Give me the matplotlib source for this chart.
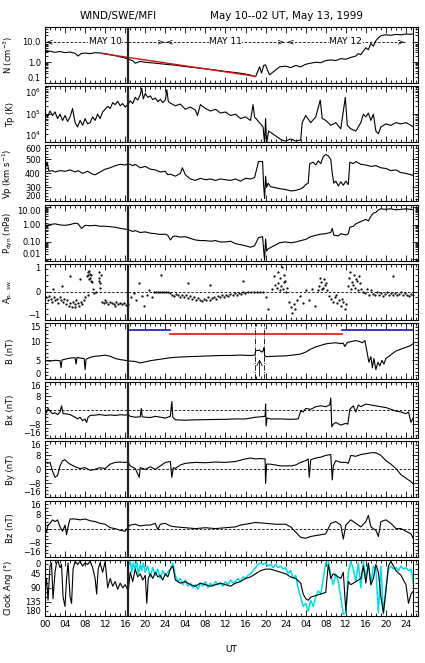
import numpy as np
import matplotlib
matplotlib.use("Agg")
import matplotlib.pyplot as plt
from matplotlib.ticker import (MultipleLocator, FixedLocator, LogLocator,
                               NullFormatter, FormatStrFormatter,
                               LogFormatterMathtext)

# ---- data: time in hours after 00 UT, May 10 1999 ----
x_ticks = [0, 4, 8, 12, 16, 20, 24, 28, 32, 36, 40, 44, 48, 52, 56, 60, 64, 68, 72]
x_tick_labels = ["00", "04", "08", "12", "16", "20", "24", "04", "08", "12",
                 "16", "20", "24", "04", "08", "12", "16", "20", "24"]
t_mark = 16.6
t_end = 73.5

day_start = [0, 24, 48]
day_end = [24, 48, 72]
day_names = ["MAY 10", "MAY 11", "MAY 12"]

# proton density (cm^-3)
t_n = [0, 1, 2, 3, 4, 5, 6, 6.6, 7.2, 8,
       9, 10, 11, 12, 13, 14, 15, 16, 16.6, 17.5,
       18, 19, 20, 21, 22, 24, 26, 28, 30, 32,
       34, 36, 38, 40, 41, 42, 42.4, 42.8, 43.2, 43.6,
       44, 44.4, 44.8, 46.8, 48, 49, 50, 51, 52, 53,
       54, 55, 56, 57, 58, 59, 60, 61, 62, 62.5,
       63, 63.5, 64, 64.5, 65, 65.5, 66, 66.5, 67, 68,
       69, 70, 71, 72, 73, 73.5]
n_vals = [3.2, 3.4, 3.0, 3.3, 2.9, 3.1, 2.7, 2.0, 2.6, 2.8,
          2.6, 2.9, 2.8, 2.6, 2.3, 2.1, 1.8, 1.6, 1.4, 1.2,
          0.9, 1.1, 1.0, 0.95, 0.9, 0.8, 0.72, 0.62, 0.55, 0.48,
          0.42, 0.36, 0.32, 0.27, 0.24, 0.2, 0.35, 0.6, 0.3, 0.7,
          0.75, 0.4, 0.25, 0.6, 0.65, 0.55, 0.7, 0.6, 0.8, 0.9,
          1.0, 0.95, 1.2, 1.3, 1.2, 1.5, 1.4, 1.7, 2.0, 2.6,
          2.3, 3.5, 5.0, 4.0, 8.0, 6.0, 11, 15, 19, 21,
          20, 22, 21, 23, 22, 25]
t_fit = [11.5, 42.0]
n_fit = [2.6, 0.21]

# proton temperature (units of 1e5 K)
t_tp = [0, 0.5, 1, 1.5, 2, 2.5, 3, 3.5, 4, 4.5,
        5, 5.5, 6, 6.5, 7, 7.5, 8, 8.5, 9, 9.5,
        10, 10.5, 11, 11.5, 12, 12.5, 13, 13.5, 14, 14.5,
        15, 15.5, 16, 16.6, 17, 17.5, 18, 18.5, 19, 19.3,
        19.6, 20, 20.5, 21, 21.5, 22, 22.5, 23, 23.5, 24,
        24.3, 24.6, 25, 26, 27, 28, 29, 30, 30.4, 31,
        32, 33, 34, 35, 36, 37, 38, 39, 40, 41,
        41.5, 41.8, 43.5, 43.8, 44.0, 44.2, 44.6, 47.2, 48, 49,
        50, 51, 51.3, 52, 53, 54, 54.9, 55.3, 56, 57,
        58, 59, 59.9, 60.3, 61, 62, 63, 63.5, 64, 64.5,
        65, 65.5, 66, 66.5, 67, 68, 69, 70, 71, 72,
        73, 73.5]
tp_vals = [1.1, 0.8, 1.3, 0.9, 1.2, 0.7, 1.0, 0.6, 0.9, 0.55,
           0.8, 1.6, 0.5, 0.35, 0.6, 0.4, 0.7, 0.45, 0.5, 0.8,
           0.6, 1.0, 0.7, 1.2, 1.5, 1.9, 1.6, 2.6, 2.2, 2.9,
           2.0, 2.4, 1.8, 2.3, 3.0, 2.4, 4.0, 3.2, 5.0, 8.5,
           3.5, 5.5, 4.0, 4.5, 3.3, 3.8, 2.8, 3.4, 2.6, 3.2,
           7.5, 2.8, 2.5, 2.0, 2.3, 1.5, 1.8, 1.4, 0.9, 2.2,
           1.6, 1.3, 1.5, 1.1, 1.2, 0.9, 1.0, 0.7, 0.8, 0.6,
           2.2, 0.8, 0.35, 0.09, 0.7, 0.09, 0.25, 0.12, 0.11, 0.13,
           0.11, 0.12, 0.5, 0.9, 0.5, 0.8, 3.2, 0.7, 0.6, 0.4,
           0.5, 0.3, 4.0, 0.4, 0.3, 0.25, 0.5, 1.0, 0.8, 1.1,
           0.6, 1.0, 0.25, 0.2, 0.35, 0.45, 0.4, 0.5, 0.45, 0.5,
           0.4, 0.35]

# proton speed (km/s)
t_vp = [0, 0.4, 0.8, 1.5, 2, 3, 4, 5, 6, 6.6,
        7.5, 8.5, 9.5, 10, 11, 12, 13, 14, 15, 16,
        16.6, 17.5, 18, 19, 20, 21, 22, 23, 24, 24.5,
        25, 26, 27, 27.4, 28, 29, 30, 31, 32, 33,
        34, 35, 36, 37, 38, 39, 40, 41, 41.8, 42.6,
        43.4, 43.6, 43.8, 44.0, 44.2, 44.5, 45, 47, 48, 49,
        50, 51, 51.5, 52, 52.5, 52.8, 53.5, 54, 54.5, 55,
        55.5, 56, 56.5, 57, 57.3, 57.6, 58, 58.5, 59, 59.5,
        60, 60.5, 60.8, 61.5, 62, 63, 64, 65, 66, 67,
        68, 69, 70, 71, 72, 73, 73.5]
vp_vals = [425, 480, 415, 420, 410, 420, 415, 425, 410, 420,
           400, 415, 395, 390, 410, 430, 440, 455, 465, 460,
           470, 455, 465, 440, 450, 430, 425, 410, 415, 390,
           395, 380, 400, 440, 390, 360, 350, 365, 355, 360,
           350, 360, 355, 350, 360, 345, 365, 360, 370, 485,
           485, 320, 220, 380, 300, 330, 305, 290, 285, 275,
           278, 290, 300, 320, 330, 470, 480, 460, 490, 470,
           520, 535, 525, 500, 400, 330, 345, 310, 340, 315,
           345, 320, 480, 470, 485, 465, 460, 450, 455, 440,
           435, 420, 425, 405, 400, 390, 385]

# dynamic pressure (nPa)
t_pd = [0, 1, 2, 3, 4, 5, 6, 6.6, 7.3, 8,
        9, 10, 11, 12, 13, 14, 15, 16, 16.6, 17.5,
        18, 19, 20, 21, 22, 23, 24, 24.5, 25, 25.5,
        26, 27, 28, 29, 30, 31, 32, 33, 34, 35,
        36, 37, 38, 39, 40, 41, 41.8, 42.6, 43.4, 43.6,
        43.8, 44.0, 44.2, 44.5, 46.8, 48, 49, 50, 51, 52,
        53, 54, 55, 56, 57, 57.3, 57.6, 58.5, 59, 60,
        60.5, 60.8, 61.5, 62, 63, 64, 64.5, 65, 65.5, 66,
        66.5, 67, 68, 69, 70, 71, 72, 73, 73.5]
pd_vals = [1.2, 1.0, 1.1, 0.95, 0.9, 1.0, 1.2, 1.1, 0.6, 0.9,
           0.85, 0.9, 0.8, 0.8, 0.75, 0.7, 0.6, 0.55, 0.5, 0.4,
           0.45, 0.35, 0.38, 0.32, 0.3, 0.27, 0.28, 0.24, 0.13, 0.2,
           0.22, 0.19, 0.2, 0.16, 0.13, 0.12, 0.12, 0.11, 0.12, 0.1,
           0.1, 0.11, 0.08, 0.07, 0.06, 0.05, 0.06, 0.18, 0.2, 0.04,
           0.009, 0.15, 0.03, 0.04, 0.09, 0.1, 0.09, 0.1, 0.12, 0.14,
           0.2, 0.24, 0.28, 0.3, 0.35, 0.6, 0.25, 0.22, 0.3, 0.25,
           0.3, 0.7, 0.8, 1.1, 1.5, 2.0, 1.6, 3.0, 4.5, 5.0,
           7.0, 8.0, 7.5, 8.0, 7.0, 7.5, 8.0, 7.5, 7.0]

# alpha/proton parameter (scatter)
t_ap = [0.2, 0.5, 0.8, 1.1, 1.4, 1.7, 2.0, 2.3, 2.6, 2.9,
        3.2, 3.5, 3.8, 4.1, 4.4, 4.7, 5.0, 5.3, 5.6, 5.9,
        6.2, 6.5, 6.8, 7.1, 7.4, 7.7, 8.0, 1.5, 3.3, 4.9,
        8.4, 8.5, 8.6, 8.7, 8.8, 8.9, 9.0, 9.1, 9.2, 9.4,
        10.7, 10.8, 10.9, 11.0, 11.1, 10.8, 9.8, 10.2, 8.6, 9.6,
        11.4, 11.8, 12.2, 12.6, 13.0, 13.4, 13.8, 14.2, 14.6, 15.0,
        15.4, 15.8, 16.2, 16.5, 12.0, 14.0, 17.2, 17.7, 18.2, 18.7,
        19.3, 19.8, 20.3, 20.8, 21.3, 21.8, 22.2, 22.6, 23.0, 23.4,
        23.8, 24.2, 24.6, 23.1, 25.0, 25.4, 25.8, 26.2, 26.6, 27.0,
        27.4, 27.8, 28.2, 28.6, 29.0, 29.4, 29.8, 30.2, 30.6, 31.0,
        31.4, 31.8, 32.2, 32.6, 33.0, 33.4, 33.8, 34.2, 34.6, 35.0,
        35.4, 35.8, 36.2, 36.6, 37.0, 37.4, 37.8, 38.2, 38.6, 39.0,
        39.4, 39.8, 40.4, 41.0, 41.6, 42.2, 42.8, 43.4, 44.0, 44.4,
        45.2, 45.8, 46.2, 46.5, 46.8, 47.1, 47.4, 47.7, 48.0, 48.3,
        46.4, 46.9, 47.2, 47.6, 47.9, 45.6, 48.7, 49.0, 49.3, 49.6,
        49.9, 50.3, 50.8, 51.4, 52.0, 52.6, 53.2, 53.8, 54.4, 54.7,
        55.0, 55.3, 55.6, 55.9, 56.2, 54.8, 55.4, 56.0, 56.6, 57.0,
        57.4, 57.8, 58.2, 58.6, 59.0, 59.4, 59.8, 58.0, 59.2, 60.0,
        60.4, 60.7, 61.0, 61.3, 61.6, 61.9, 62.2, 62.5, 62.8, 63.1,
        60.9, 61.5, 62.1, 62.7, 63.4, 63.8, 64.2, 64.6, 65.0, 65.4,
        65.8, 66.2, 66.6, 67.0, 67.4, 67.8, 68.2, 68.6, 69.0, 69.4,
        69.8, 70.2, 70.6, 71.0, 71.4, 71.8, 72.2, 72.6, 73.0, 73.4,
        69.5, 7.0, 6.0, 28.5, 33.0, 39.5]
ap_vals = [-0.20, -0.30, -0.15, -0.25, -0.35, -0.20, -0.30, -0.25, -0.40, -0.20,
           -0.30, -0.35, -0.25, -0.45, -0.30, -0.50, -0.40, -0.55, -0.35, -0.45,
           -0.30, -0.40, -0.50, -0.35, -0.45, -0.30, -0.20, 0.10, 0.20, 0.55,
           0.55, 0.70, 0.60, 0.45, 0.75, 0.50, 0.65, 0.40, 0.60, 0.35,
           0.70, 0.50, 0.30, 0.15, 0.60, 0.40, -0.05, 0.00, -0.10, 0.10,
           -0.35, -0.40, -0.38, -0.42, -0.36, -0.40, -0.44, -0.38, -0.42, -0.40,
           -0.45, -0.40, -0.48, -0.42, -0.30, -0.50, -0.20, -0.05, -0.30, 0.30,
           -0.15, -0.50, -0.10, 0.05, -0.20, 0.00, 0.00, 0.00, 0.00, 0.00,
           0.00, 0.00, 0.00, 0.60, -0.05, -0.10, -0.15, -0.08, -0.12, -0.20,
           -0.10, -0.18, -0.12, -0.22, -0.15, -0.25, -0.20, -0.30, -0.22, -0.28,
           -0.32, -0.25, -0.30, -0.20, -0.28, -0.22, -0.18, -0.25, -0.15, -0.20,
           -0.12, -0.18, -0.10, -0.15, -0.08, -0.12, -0.05, -0.10, -0.03, -0.08,
           -0.02, -0.05, 0.00, 0.00, 0.00, 0.00, 0.00, 0.00, -0.20, -0.60,
           0.10, 0.25, 0.15, 0.30, 0.05, 0.20, 0.10, 0.35, 0.00, 0.15,
           0.70, 0.50, 0.90, 0.60, 0.40, 0.55, -0.35, -0.55, -0.75, -0.45,
           -0.60, -0.30, -0.15, -0.40, 0.05, -0.30, 0.10, -0.50, 0.05, 0.20,
           0.35, 0.10, 0.45, 0.25, 0.05, 0.50, 0.15, 0.30, -0.15, -0.25,
           -0.35, -0.20, -0.40, -0.30, -0.50, -0.35, -0.60, -0.10, -0.25, -0.45,
           0.20, 0.50, 0.10, 0.35, 0.60, 0.15, 0.40, 0.05, 0.30, 0.10,
           0.70, 0.25, 0.45, 0.55, 0.00, -0.05, 0.10, -0.10, 0.05, -0.08,
           -0.12, 0.00, -0.10, -0.05, -0.15, -0.08, -0.02, -0.10, -0.06, -0.12,
           -0.05, -0.10, -0.08, -0.02, -0.12, -0.06, -0.10, -0.15, -0.08, -0.12,
           0.57, 0.45, -0.55, 0.30, 0.25, 0.40]

# field magnitude (nT)
t_b = [0, 1, 2, 3, 3.2, 3.4, 4, 5, 6, 6.2,
       6.4, 7, 7.8, 8.0, 8.2, 9, 10, 11, 12, 13,
       14, 15, 16, 16.6, 17, 18, 19, 20, 21, 22,
       23, 24, 25, 27, 29, 31, 33, 35, 37, 39,
       41, 41.9, 42.0, 42.8, 43.2, 43.6, 43.7, 43.8, 44.0, 46,
       48, 50, 51, 52, 53, 54, 55, 56, 57, 58,
       59, 59.5, 59.8, 60.3, 61, 62, 62.8, 63.3, 63.8, 64.2,
       64.6, 65.0, 65.3, 65.6, 66.0, 66.4, 66.8, 67.2, 67.6, 68,
       69, 70, 71, 72, 73, 73.5]
b_vals = [4.9, 4.8, 5.0, 4.9, 3.0, 5.1, 5.3, 5.6, 5.7, 4.0,
          5.8, 5.6, 5.5, 2.5, 5.3, 5.8, 6.1, 6.2, 6.4, 6.1,
          5.5, 5.2, 5.0, 4.9, 4.8, 4.7, 4.3, 4.6, 4.9, 5.1,
          5.3, 5.5, 5.7, 5.9, 6.0, 6.1, 6.2, 6.3, 6.3, 6.4,
          6.3, 6.4, 7.6, 7.7, 7.2, 7.7, 8.4, 6.3, 6.0, 6.1,
          6.2, 6.5, 6.7, 7.2, 8.0, 8.6, 9.0, 9.4, 9.6, 9.7,
          9.5, 9.6, 8.7, 9.8, 10.0, 10.3, 10.0, 9.7, 10.3, 7.5,
          4.5, 6.0, 3.0, 5.5, 2.5, 4.5, 3.5, 5.0, 4.0, 5.5,
          6.5, 7.5, 8.0, 8.5, 9.0, 9.5]
# interval bars above the B trace
bar_start = [16.6, 25.0, 59.3]
bar_end = [25.0, 59.3, 73.5]
bar_level = [13.0, 12.1, 13.0]
t_bounds = [41.9, 43.7]
t_arrow = 42.8
b_arrow_tip = 6.0

# field components (nT)
t_bx = [0, 0.3, 0.6, 1, 1.5, 2, 2.5, 3, 3.3, 3.6,
        4, 5, 6, 6.5, 7, 7.5, 8, 8.3, 8.6, 9,
        10, 11, 12, 13, 14, 15, 16, 16.6, 17, 18,
        19, 19.2, 19.4, 20, 21, 22, 23, 24, 25, 25.3,
        25.5, 26, 28, 30, 32, 34, 36, 38, 40, 41,
        42, 43, 43.9, 44.0, 44.1, 44.3, 45, 47, 49, 50.5,
        51, 51.5, 52, 53, 54, 55, 56, 56.8, 57.0, 57.2,
        57.5, 58, 59, 60, 60.4, 60.8, 61.5, 62, 62.5, 63,
        64, 65, 66, 67, 68, 69, 70, 71, 72, 72.5,
        73, 73.5]
bx_vals = [0.5, -1.5, 1.0, -0.5, -2.0, -1.5, -2.5, -1.0, 2.5, -2.0,
           -2.0, -2.5, -4.0, -5.0, -4.0, -6.0, -5.0, -7.0, -4.0, -3.0,
           -2.8, -2.5, -3.0, -2.7, -3.0, -2.6, -2.8, -2.5, -3.5, -4.0,
           -3.8, 1.0, -3.8, -4.0, -4.2, -3.5, -4.0, -4.5, -3.5, 5.0,
           -4.0, -5.5, -5.7, -5.5, -5.4, -5.3, -5.2, -5.0, -5.0, -4.5,
           -4.0, -3.8, -3.5, 3.5, -9.0, -4.5, -5.0, -5.0, -5.2, -5.0,
           -0.5, -1.0, 1.0, 0.5, 2.0, 2.5, 2.0, 3.0, 7.0, -9.5,
           -8.0, -7.0, -8.5, -7.5, -8.0, 0.5, 2.5, -1.0, 3.0, 2.0,
           3.5, 3.0, 2.5, 2.0, 1.5, 0.5, -0.5, -1.0, -2.0, -1.0,
           -7.0, -4.0]

t_by = [0, 0.5, 1, 1.5, 2, 2.5, 3, 3.5, 4, 4.5,
        5, 6, 7, 8, 9, 10, 11, 12, 13, 14,
        15, 16, 16.6, 17, 18, 18.8, 19, 20, 21, 22,
        23, 24, 25, 25.3, 25.6, 26, 27, 28, 30, 32,
        34, 36, 38, 40, 41, 42, 43, 43.9, 44.0, 44.2,
        45, 46, 47, 48, 49, 50, 51, 52, 52.5, 52.7,
        53, 54, 55, 56, 57, 57.3, 57.5, 58, 59, 60,
        60.5, 61, 62, 63, 64, 65, 66, 67, 68, 69,
        70, 71, 72, 73, 73.5]
by_vals = [4.5, 3.5, 4.0, -1.0, -4.5, -3.5, 2.0, 5.0, 5.5, 4.0,
           3.0, 1.5, 0.5, 1.0, -0.5, 0.0, 1.0, 0.5, 3.0, 4.0,
           4.2, 4.0, 4.2, 2.0, 0.5, -4.5, 1.0, 0.0, 1.5, 0.0,
           2.0, 4.0, 4.5, -4.5, 1.0, 0.5, 2.5, 3.5, 4.0, 3.8,
           4.2, 4.0, 4.5, 6.0, 6.5, 6.0, 6.2, 6.0, -8.0, 3.0,
           3.0, 2.5, 2.0, 2.0, 2.0, 2.5, 4.0, 5.0, 6.0, -4.5,
           5.5, 6.5, 7.0, 8.0, 8.5, -6.0, 2.0, 5.0, 4.0, 4.0,
           3.5, 8.0, 7.5, 8.5, 9.0, 9.5, 9.5, 8.0, 5.0, 3.0,
           0.5, -3.0, -5.0, -7.0, -8.5]

t_bz = [0, 0.3, 0.6, 1, 1.5, 2, 2.5, 3, 3.5, 4,
        4.3, 4.6, 5, 6, 7, 8, 9, 10, 11, 12,
        13, 14, 15, 16, 16.6, 17, 18, 19, 20, 21,
        22, 22.5, 23, 24, 25, 26, 28, 30, 32, 34,
        36, 38, 39, 40, 41, 42, 44, 46, 48, 49,
        50, 51, 52, 53, 54, 55, 56, 57, 58, 59,
        59.5, 60, 61, 62, 63, 64, 64.5, 65, 66, 66.5,
        67, 68, 69, 70, 71, 72, 73, 73.5]
bz_vals = [0.5, -2.0, 2.0, 3.0, 5.0, 4.0, 5.0, 1.0, -1.5, 2.0,
           -3.5, 1.0, 5.5, 5.5, 5.0, 5.5, 4.5, 4.0, 3.0, 2.5,
           0.5, 0.0, -1.0, -1.5, 1.0, 2.0, 2.5, 1.5, 2.0, 2.0,
           3.0, -0.5, 2.5, 3.0, 1.5, 1.0, 0.5, 0.0, 0.5, 0.0,
           0.5, 1.0, 2.0, 2.5, 3.0, 3.5, 3.0, 2.5, 2.5, 1.0,
           -2.0, -5.0, -5.5, -4.5, -4.0, -3.5, -3.0, 3.0, 4.0, 2.0,
           -6.0, 2.0, 5.0, 3.0, 1.0, 4.0, 7.5, 1.0, -1.0, -4.5,
           4.0, 5.0, 3.0, 0.0, 0.0, -1.5, -3.0, -6.0]

# clock angle (deg): observed (black) and second series (cyan)
t_clk = [0, 0.3, 0.6, 1, 1.3, 1.6, 2, 2.3, 2.6, 3,
         3.3, 3.6, 4, 4.3, 4.6, 5, 5.3, 5.6, 6, 6.5,
         7, 7.5, 8, 8.5, 9, 9.5, 10, 10.3, 10.6, 11,
         11.5, 12, 12.5, 13, 13.5, 14, 14.5, 15, 15.5, 16,
         16.6, 17, 17.5, 18, 18.5, 19, 19.5, 20, 20.3, 20.6,
         21, 21.5, 22, 22.5, 23, 23.5, 24, 24.5, 25, 25.5,
         26, 27, 28, 29, 30, 31, 32, 33, 34, 35,
         36, 37, 38, 39, 40, 41, 42, 43, 44, 45,
         46, 47, 48, 49, 50, 51, 51.5, 52, 52.5, 53,
         54, 55, 56, 56.5, 57, 57.5, 58, 59, 59.5, 60,
         60.5, 61, 62, 63, 63.5, 64, 64.5, 65, 65.5, 66,
         66.5, 67, 67.5, 68, 68.5, 69, 70, 71, 72, 72.5,
         73, 73.5]
clk_vals = [100, 60, 130, 20, 10, 125, 40, 10, 5, 25,
            15, 120, 150, 60, 10, 120, 140, 30, 5, 15,
            5, 20, 10, 15, 5, 25, 60, 110, 30, 10,
            40, 5, 90, 60, 85, 70, 95, 75, 90, 80,
            100, 40, 70, 30, 55, 45, 65, 50, 140, 60,
            45, 60, 40, 55, 50, 65, 45, 55, 30, 20,
            65, 75, 70, 80, 85, 75, 80, 85, 80, 75,
            80, 85, 75, 70, 60, 55, 45, 35, 30, 30,
            35, 40, 45, 55, 60, 75, 110, 125, 130, 120,
            115, 110, 105, 15, 60, 45, 50, 60, 40, 165,
            70, 80, 70, 60, 20, 75, 10, 80, 60, 15,
            40, 120, 170, 100, 20, 5, 35, 50, 80, 140,
            110, 100]

t_clk2 = [16.6, 17, 17.3, 17.6, 18, 18.3, 18.6, 19, 19.3, 19.6,
          20, 20.5, 21, 21.5, 22, 22.5, 23, 23.5, 24, 24.5,
          25, 25.5, 26, 26.5, 27, 27.5, 28, 28.5, 29, 29.5,
          30, 30.5, 31, 31.5, 32, 32.5, 33, 33.5, 34, 34.5,
          35, 35.5, 36, 36.5, 37, 37.5, 38, 38.5, 39, 39.5,
          40, 40.5, 41, 41.5, 42, 42.5, 43, 43.5, 44, 44.5,
          45, 45.5, 46, 46.5, 47, 47.5, 48, 48.5, 49, 49.5,
          50, 50.5, 51, 51.5, 52, 52.5, 53, 53.5, 54, 54.5,
          55, 55.5, 56, 56.5, 57, 57.5, 58, 58.5, 59, 59.5,
          60, 60.5, 61, 61.5, 62, 62.5, 63, 63.5, 64, 64.5,
          65, 65.5, 66, 66.5, 67, 67.5, 68, 68.5, 69, 69.5,
          70, 70.5, 71, 71.5, 72, 72.5, 73, 73.5]
clk2_vals = [20, 5, 40, 10, 30, 5, 45, 15, 35, 10,
             40, 20, 55, 25, 50, 30, 60, 35, 50, 40,
             30, 10, 50, 70, 60, 80, 65, 85, 75, 90,
             80, 95, 75, 85, 70, 90, 75, 85, 70, 80,
             75, 85, 70, 80, 65, 75, 70, 60, 70, 55,
             60, 50, 45, 35, 25, 15, 10, 15, 10, 20,
             15, 25, 15, 25, 20, 30, 25, 45, 35, 60,
             50, 90, 120, 150, 140, 165, 130, 150, 120, 100,
             110, 60, 10, 0, 50, 80, 45, 70, 120, 175,
             170, 40, 5, 30, 70, 10, 90, 5, 60, 15,
             80, 20, 30, 170, 20, 175, 90, 30, 20, 30,
             25, 35, 20, 30, 25, 35, 30, 80]


FS = 6.0


def style_axis(ax, last):
    ax.set_xlim(0, 74.4)
    ax.xaxis.set_major_locator(FixedLocator(x_ticks))
    ax.xaxis.set_minor_locator(MultipleLocator(1))
    if last:
        ax.set_xticklabels(x_tick_labels)
    else:
        ax.set_xticklabels([])
    ax.tick_params(which="both", direction="in", top=True, right=True,
                   width=0.6, labelsize=FS, pad=3)
    ax.tick_params(axis="x", labelsize=6.5)
    ax.tick_params(which="major", length=4)
    ax.tick_params(which="minor", length=2)
    for s in ax.spines.values():
        s.set_linewidth(0.8)
    ax.axvline(t_mark, color="#222222", lw=1.6, zorder=5)
    ax.axvline(t_end, color="k", lw=0.7, zorder=5)
    ax.yaxis.set_label_coords(-0.08, 0.5)


def log_minor(ax):
    ax.yaxis.set_minor_locator(LogLocator(base=10, subs=np.arange(2, 10), numticks=20))
    ax.yaxis.set_minor_formatter(NullFormatter())


fig = plt.figure(figsize=(4.25, 6.63), dpi=100)
plt.rcParams["mathtext.default"] = "regular"
W, H = 425.0, 663.0
axes = []
for i in range(10):
    top = 27 + i * 59.2
    axes.append(fig.add_axes([45 / W, 1 - (top + 56) / H, 373 / W, 56 / H]))

# N
ax = axes[0]
ax.plot(t_n, n_vals, color="k", lw=0.8)
ax.plot(t_fit, n_fit, color="#cc1111", lw=1.0)
ax.set_yscale("log")
ax.set_ylim(0.1, 50)
ax.yaxis.set_major_locator(FixedLocator([0.1, 1, 10]))
ax.yaxis.set_major_formatter(FormatStrFormatter("%.1f"))
log_minor(ax)
for s, e, name in zip(day_start, day_end, day_names):
    ax.plot([s, e], [10, 10], color="k", lw=0.6, dashes=(3, 2))
    ax.text(s + 0.2, 10, "<", fontsize=6.5, ha="left", va="center")
    ax.text(e - 0.2, 10, ">", fontsize=6.5, ha="right", va="center")
    ax.text((s + e) / 2, 10, name, fontsize=6.5, ha="center", va="center",
            bbox=dict(facecolor="white", edgecolor="none", pad=0.3))
ax.set_ylabel("N (cm$^{-3}$)", fontsize=FS)

# Tp
ax = axes[1]
ax.plot(t_tp, np.array(tp_vals) * 1e5, color="k", lw=0.8)
ax.set_yscale("log")
ax.set_ylim(1e4, 1e6)
ax.yaxis.set_major_locator(FixedLocator([1e4, 1e5, 1e6]))
ax.yaxis.set_major_formatter(LogFormatterMathtext())
log_minor(ax)
ax.set_ylabel("Tp (K)", fontsize=FS)

# Vp
ax = axes[2]
ax.plot(t_vp, vp_vals, color="k", lw=0.8)
ax.set_ylim(200, 600)
ax.yaxis.set_major_locator(MultipleLocator(100))
ax.yaxis.set_minor_locator(MultipleLocator(20))
ax.set_ylabel("Vp (km s$^{-1}$)", fontsize=FS)

# Pdyn
ax = axes[3]
ax.plot(t_pd, pd_vals, color="k", lw=0.8)
ax.set_yscale("log")
ax.set_ylim(0.0085, 14)
ax.yaxis.set_major_locator(FixedLocator([0.01, 0.1, 1, 10]))
ax.yaxis.set_major_formatter(FormatStrFormatter("%.2f"))
log_minor(ax)
ax.set_ylabel("P$_{dyn}$ (nPa)", fontsize=FS)

# A
ax = axes[4]
ax.plot(t_ap, ap_vals, ls="none", marker=".", ms=1.2, color="k")
ax.axhline(0, color="k", lw=0.6, dashes=(3, 2))
ax.set_ylim(-1, 1)
ax.yaxis.set_major_locator(MultipleLocator(1))
ax.yaxis.set_minor_locator(MultipleLocator(0.2))
ax.set_ylabel("A$_{p,\\ sw}$", fontsize=FS)

# B
ax = axes[5]
ax.plot(t_b, b_vals, color="k", lw=0.8)
for s, e, lev, c in zip(bar_start, bar_end, bar_level, ["#1010c0", "#dd1010", "#1010c0"]):
    ax.plot([s, e], [lev, lev], color=c, lw=1.2)
for tb in t_bounds:
    ax.axvline(tb, color="k", lw=0.6, ls="-.")
ax.annotate("", xy=(t_arrow, b_arrow_tip), xytext=(t_arrow, 0),
            arrowprops=dict(arrowstyle="->", color="k", lw=0.6))
ax.set_ylim(0, 15)
ax.yaxis.set_major_locator(MultipleLocator(5))
ax.yaxis.set_minor_locator(MultipleLocator(1))
ax.set_ylabel("B (nT)", fontsize=FS)

# components
for ax, t, v, lab in zip(axes[6:9], [t_bx, t_by, t_bz], [bx_vals, by_vals, bz_vals],
                         ["Bx (nT)", "By (nT)", "Bz (nT)"]):
    ax.plot(t, v, color="k", lw=0.8)
    ax.axhline(0, color="k", lw=0.6, dashes=(3, 2))
    ax.set_ylim(-16, 16)
    ax.yaxis.set_major_locator(MultipleLocator(8))
    ax.yaxis.set_minor_locator(MultipleLocator(2))
    ax.set_ylabel(lab, fontsize=FS)

# clock angle
ax = axes[9]
ax.plot(t_clk, clk_vals, color="k", lw=0.8, zorder=3)
ax.plot(t_clk2, clk2_vals, color="#00dde8", lw=1.1, zorder=2)
ax.set_ylim(180, 0)
ax.yaxis.set_major_locator(MultipleLocator(45))
ax.yaxis.set_minor_locator(MultipleLocator(15))
ax.set_ylabel("Clock Ang ($\\degree$)", fontsize=FS)

for i, ax in enumerate(axes):
    style_axis(ax, i == 9)

fig.text(118 / W, 1 - 16 / H, "WIND/SWE/MFI", fontsize=7.5, ha="center", va="center")
fig.text(287 / W, 1 - 16 / H, "May 10--02 UT, May 13, 1999", fontsize=7.5,
         ha="center", va="center")
fig.text(231 / W, 1 - 650 / H, "UT", fontsize=6.5, ha="center", va="center")

# keep the end labels of stacked panels inside their own panel
fig.canvas.draw()
for ax in axes:
    bb = ax.get_window_extent()
    for tick in ax.yaxis.get_major_ticks():
        y = ax.transData.transform((0, tick.get_loc()))[1]
        if abs(y - bb.y0) < 3:
            tick.label1.set_va("bottom")
        elif abs(y - bb.y1) < 3:
            tick.label1.set_va("top")

fig.savefig("out.png", dpi=100)
